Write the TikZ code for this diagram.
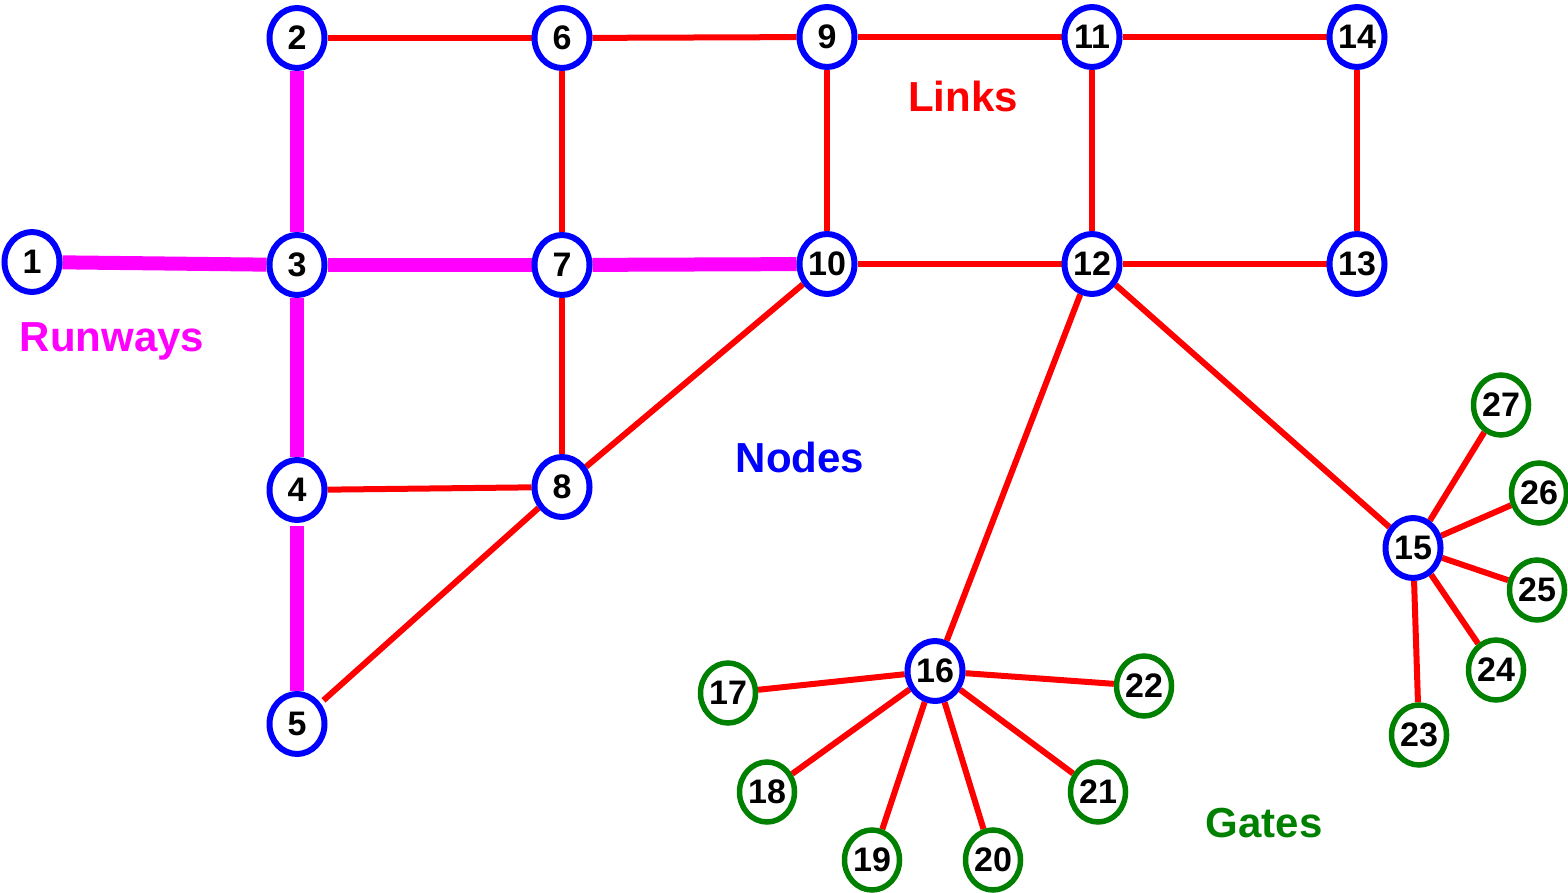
\documentclass[tikz,border=0pt]{standalone}
\usepackage{fontspec}
\setmainfont{Liberation Sans}
\usepackage{xcolor}
\definecolor{nodeblue}{rgb}{0,0,1}
\definecolor{linkred}{rgb}{1,0,0}
\definecolor{runwaymag}{rgb}{1,0,1}
\definecolor{gategreen}{rgb}{0,.5,0}
\usetikzlibrary{shapes.geometric,backgrounds}

\begin{document}
\begin{tikzpicture}[x=1pt, y=-1pt, line cap=butt, font=\bfseries\fontsize{34}{38}\selectfont,
   hub/.style={ellipse, draw=nodeblue, line width=6pt, fill=white, minimum width=55pt, minimum height=60pt, inner sep=0pt},
   gate/.style={hub, draw=gategreen, line width=5.5pt},
   link/.style={draw=linkred, line width=6pt},
   runway/.style={draw=runwaymag, line width=14pt},
   legend/.style={font=\bfseries\fontsize{42}{46}\selectfont},]
   \useasboundingbox (0,0) rectangle (1568,893);

   % airport nodes
   \node[hub] (n1) at (32,262) {1};
   \node[hub] (n2) at (297,38) {2};
   \node[hub] (n3) at (297,265) {3};
   \node[hub] (n4) at (297,490) {4};
   \node[hub] (n5) at (297,724) {5};
   \node[hub] (n6) at (562,38) {6};
   \node[hub] (n7) at (562,265) {7};
   \node[hub] (n8) at (562,487) {8};
   \node[hub] (n9) at (827,37) {9};
   \node[hub] (n10) at (827,264) {10};
   \node[hub] (n11) at (1092,37) {11};
   \node[hub] (n12) at (1092,264) {12};
   \node[hub] (n13) at (1357,264) {13};
   \node[hub] (n14) at (1357,37) {14};
   \node[hub] (n15) at (1413,548) {15};
   \node[hub] (n16) at (935,671) {16};

   % gates
   \node[gate] (n17) at (728,693) {17};
   \node[gate] (n18) at (767,792) {18};
   \node[gate] (n19) at (872,860) {19};
   \node[gate] (n20) at (993,860) {20};
   \node[gate] (n21) at (1098,792) {21};
   \node[gate] (n22) at (1144,686) {22};
   \node[gate] (n23) at (1419,735) {23};
   \node[gate] (n24) at (1496,670) {24};
   \node[gate] (n25) at (1537,590) {25};
   \node[gate] (n26) at (1539,493) {26};
   \node[gate] (n27) at (1501,405) {27};

   % legend
   \node[legend, text=runwaymag] (runways) at (112,341) {Runways};
   \node[legend, text=linkred] (links) at (963,96) {Links};
   \node[legend, text=nodeblue] (nodes) at (800,457) {Nodes};
   \node[legend, text=gategreen] (gates) at (1264,823) {Gates};

   \begin{scope}[on background layer]
   \path[runway]
     (n1) edge (n3)
     (n3) edge (n7)
     (n7) edge (n10)
     (n2) edge (n3)
     (n3) edge (n4)
     (n4) edge[shorten <=3pt] (n5);
   \path[link]
     (n2) edge (n6)
     (n6) edge (n9)
     (n9) edge (n11)
     (n11) edge (n14)
     (n6) edge (n7)
     (n9) edge (n10)
     (n11) edge (n12)
     (n14) edge (n13)
     (n10) edge (n12)
     (n12) edge (n13)
     (n7) edge (n8)
     (n4) edge (n8)
     (n8) edge (n10)
     (n5) edge[shorten <=4pt] (n8)
     (n12) edge (n16)
     (n12) edge (n15);
   \foreach \g in {17,...,22}
     \path[link] (n16) edge (n\g);
   \foreach \g in {23,...,27}
     \path[link] (n15) edge (n\g);
   \end{scope}
\end{tikzpicture}
\end{document}
